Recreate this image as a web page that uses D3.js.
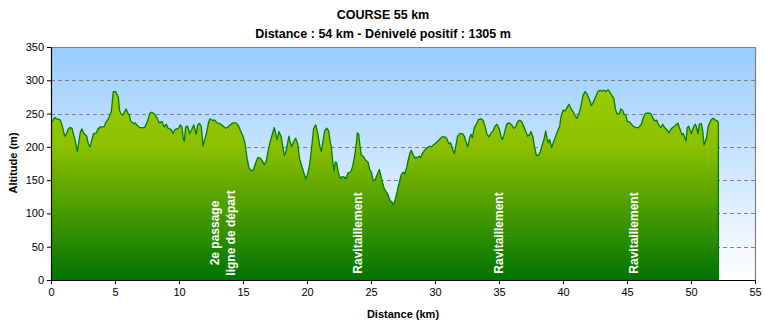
<!DOCTYPE html>
<html>
<head>
<meta charset="utf-8">
<script src="https://cdn.jsdelivr.net/npm/d3@7"></script>
<style>
  body { margin: 0; background: #fff; }
  svg { display: block; }
  text { font-family: "Liberation Sans", Arial, sans-serif; }
</style>
</head>
<body>
<svg id="chart" width="765" height="325"></svg>
<script>
// Elevation profile of the 55 km course: distance (km) and altitude (m)
const distanceKm = [
  0, 0.08, 0.29, 0.44, 0.70, 0.86, 1.07, 1.20, 1.33, 1.48,
  1.64, 1.74, 1.90, 2.06, 2.16, 2.29, 2.40, 2.58, 2.79, 2.92,
  3.05, 3.18, 3.33, 3.54, 3.67, 3.88, 4.14, 4.27, 4.53, 4.71,
  4.87, 5.05, 5.26, 5.36, 5.49, 5.63, 5.76, 5.86, 6.02, 6.12,
  6.22, 6.43, 6.59, 6.74, 6.93, 7.32, 7.53, 7.71, 7.84, 8.05,
  8.26, 8.46, 8.67, 8.85, 9.01, 9.14, 9.40, 9.53, 9.69, 9.97,
  10.10, 10.23, 10.34,
  10.42, 10.52, 10.68, 10.83, 10.99, 11.15, 11.25, 11.35, 11.46, 11.61,
  11.74, 11.88, 11.98, 12.14, 12.29, 12.40, 12.60, 12.79, 12.97, 13.18,
  13.39, 13.65, 13.83, 14.01, 14.22, 14.43, 14.64, 14.79, 15.00, 15.16,
  15.31, 15.47, 15.63, 15.78, 15.94, 16.15, 16.35, 16.51, 16.67, 16.82,
  16.98, 17.14, 17.29, 17.45, 17.55, 17.66, 17.81, 17.97, 18.07, 18.23,
  18.33, 18.49, 18.59, 18.70, 18.80, 18.96, 19.11, 19.27, 19.43, 19.58,
  19.74, 19.90, 20.05, 20.21, 20.36, 20.52, 20.68,
  20.83, 21.00, 21.12, 21.22, 21.38, 21.54, 21.69, 21.80, 21.90, 22.01,
  22.11, 22.21, 22.32, 22.42, 22.58, 22.73, 22.89, 23.05, 23.20, 23.41,
  23.57, 23.72, 23.85, 23.93, 24.04, 24.14, 24.24, 24.38, 24.51, 24.64,
  24.77, 24.90, 25.03, 25.18, 25.34, 25.49, 25.65, 25.76, 25.86, 26.02,
  26.17, 26.33, 26.48, 26.64, 26.74, 26.85, 27.01, 27.11, 27.27, 27.37,
  27.53, 27.63, 27.79, 27.89, 28.05, 28.15, 28.26, 28.41, 28.62, 28.78,
  28.88, 29.04, 29.19, 29.35, 29.56, 29.71, 29.87, 30.03, 30.18, 30.34,
  30.55, 30.76, 30.91, 31.07, 31.22,
  31.38, 31.51, 31.61, 31.77, 31.93, 32.14, 32.29, 32.40, 32.55, 32.71,
  32.81, 32.92, 33.07, 33.23, 33.39, 33.59, 33.75, 33.91, 34.06, 34.22,
  34.38, 34.53, 34.69, 34.84, 35.00, 35.16, 35.26, 35.36, 35.52, 35.63,
  35.83, 35.99, 36.15, 36.30, 36.46, 36.61, 36.77, 36.93, 37.08, 37.24,
  37.40, 37.50, 37.66, 37.76, 37.92, 38.07, 38.23, 38.39, 38.54, 38.65,
  38.75, 38.85, 38.96, 39.11, 39.27, 39.43, 39.58, 39.74, 39.84, 40.00,
  40.16, 40.31, 40.47, 40.63, 40.78, 40.94, 41.09, 41.25, 41.41, 41.56,
  41.72, 41.88,
  41.97, 42.11, 42.21, 42.37, 42.53, 42.73, 42.89, 43.05, 43.20, 43.36,
  43.52, 43.67, 43.83, 43.98, 44.09, 44.24, 44.40, 44.51, 44.66, 44.77,
  44.92, 45.03, 45.18, 45.34, 45.49, 45.70, 45.91, 46.12, 46.28, 46.43,
  46.64, 46.85, 47.01, 47.16, 47.32, 47.47, 47.63, 47.79, 47.94, 48.10,
  48.26, 48.41, 48.57, 48.72, 48.88, 48.98, 49.09, 49.19, 49.30, 49.40,
  49.51, 49.61, 49.71, 49.82, 49.92, 50.03, 50.13, 50.23, 50.34, 50.44,
  50.55, 50.65, 50.81, 50.91, 51.02, 51.12, 51.22, 51.33, 51.43, 51.59,
  51.74, 51.90, 52.06, 52.14
];

const altitudeM = [
  238, 238, 244, 242, 241, 233, 216, 219, 226, 229,
  228, 220, 209, 193, 206, 222, 227, 220, 216, 204,
  200, 210, 220, 221, 227, 230, 230, 236, 244, 253,
  283, 283, 274, 254, 249, 248, 253, 257, 250, 248,
  239, 235, 236, 232, 229, 229, 238, 250, 252, 250,
  244, 236, 238, 230, 234, 228, 226, 220, 226, 228,
  233, 230, 211,
  209, 230, 231, 220, 226, 233, 226, 219, 233, 235,
  231, 201, 209, 220, 235, 242, 240, 240, 236, 235,
  232, 228, 230, 233, 236, 236, 232, 225, 216, 205,
  184, 168, 165, 164, 173, 184, 183, 179, 173, 179,
  196, 209, 219, 229, 220, 211, 223, 216, 204, 187,
  191, 206, 216, 206, 200, 208, 213, 205, 181, 172,
  162, 152, 159, 174, 199, 228, 233,
  221, 201, 193, 205, 224, 228, 224, 209, 200, 178,
  164, 177, 176, 164, 153, 155, 155, 152, 161, 162,
  171, 186, 204, 221, 219, 201, 188, 186, 182, 179,
  177, 166, 162, 149, 151, 159, 166, 158, 149, 138,
  133, 128, 120, 117, 113, 118, 130, 139, 151, 159,
  162, 159, 169, 179, 191, 195, 189, 184, 184, 186,
  184, 191, 195, 198, 201, 200, 203, 205, 208, 211,
  215, 215, 213, 205, 206,
  196, 190, 200, 216, 220, 220, 216, 209, 200, 214,
  219, 214, 229, 234, 241, 242, 240, 231, 219, 215,
  221, 224, 231, 234, 228, 216, 211, 216, 228, 235,
  236, 233, 228, 230, 238, 240, 238, 231, 224, 216,
  219, 223, 214, 201, 187, 187, 193, 204, 213, 224,
  213, 206, 211, 199, 208, 216, 224, 231, 245, 255,
  254, 259, 264, 257, 253, 247, 243, 250, 262, 277,
  283, 279,
  275, 269, 262, 267, 274, 283, 285, 284, 285, 283,
  286, 282, 277, 272, 257, 249, 250, 257, 255, 249,
  247, 238, 238, 234, 231, 229, 229, 234, 244, 250,
  251, 250, 244, 239, 240, 233, 229, 234, 229, 226,
  221, 226, 229, 231, 234, 236, 229, 224, 218, 220,
  214, 209, 229, 231, 225, 220, 226, 231, 234, 229,
  219, 234, 235, 224, 203, 208, 214, 229, 235, 241,
  243, 240, 239, 236
];

// Axis ticks
const xTicks = [0, 5, 10, 15, 20, 25, 30, 35, 40, 45, 50, 55];
const yTicks = [0, 50, 100, 150, 200, 250, 300, 350];

// Course markers written over the profile
const markerKm = [13.43, 24.0, 35.0, 45.5];
const markerLines = [
  ["2e passage", "ligne de départ"],
  ["Ravitaillement"],
  ["Ravitaillement"],
  ["Ravitaillement"]
];

const titleText = "COURSE 55 km";
const subtitleText = "Distance : 54 km - Dénivelé positif : 1305 m";
const xTitle = "Distance (km)";
const yTitle = "Altitude (m)";

const svg = d3.select("#chart");
const plot = { left: 51, top: 47, right: 755, bottom: 280 };

const x = d3.scaleLinear().domain([0, 55]).range([plot.left, plot.right]);
const y = d3.scaleLinear().domain([0, 350]).range([plot.bottom, plot.top]);

const profile = d3.zip(distanceKm, altitudeM);

// Gradients: sky behind the plot, green fill under the profile
const defs = svg.append("defs");
const sky = defs.append("linearGradient")
  .attr("id", "sky").attr("gradientUnits", "userSpaceOnUse")
  .attr("x1", 0).attr("x2", 0).attr("y1", plot.top).attr("y2", plot.bottom);
sky.append("stop").attr("offset", 0).attr("stop-color", "#99ccff");
sky.append("stop").attr("offset", 1).attr("stop-color", "#ffffff");

const grass = defs.append("linearGradient")
  .attr("id", "grass").attr("gradientUnits", "userSpaceOnUse")
  .attr("x1", 0).attr("x2", 0)
  .attr("y1", y(d3.max(altitudeM))).attr("y2", y(0));
grass.append("stop").attr("offset", 0).attr("stop-color", "#9acc00");
grass.append("stop").attr("offset", 0.3).attr("stop-color", "#8cc000");
grass.append("stop").attr("offset", 1).attr("stop-color", "#007400");

svg.append("rect")
  .attr("x", plot.left).attr("y", plot.top)
  .attr("width", plot.right - plot.left).attr("height", plot.bottom - plot.top)
  .attr("fill", "url(#sky)");

// Dashed gridlines
svg.append("g").selectAll("line")
  .data(yTicks.filter(v => v > 0 && v < 350))
  .join("line")
  .attr("x1", plot.left).attr("x2", plot.right)
  .attr("y1", d => Math.round(y(d)) + 0.5).attr("y2", d => Math.round(y(d)) + 0.5)
  .attr("stroke", "#808080").attr("stroke-width", 1)
  .attr("stroke-dasharray", "4,3");

// Top and right frame
svg.append("path")
  .attr("d", `M${plot.left},${plot.top + 0.5}H${plot.right + 0.5}V${plot.bottom}`)
  .attr("fill", "none").attr("stroke", "#808080").attr("stroke-width", 1.2);

// Profile area and outline
svg.append("path")
  .datum(profile)
  .attr("d", d3.area().x(d => x(d[0])).y0(y(0)).y1(d => y(d[1])))
  .attr("fill", "url(#grass)");

const last = profile[profile.length - 1];
svg.append("path")
  .datum(profile.concat([[last[0], 0]]))
  .attr("d", d3.line().x(d => x(d[0])).y(d => y(d[1])))
  .attr("fill", "none").attr("stroke", "#008000").attr("stroke-width", 1.3)
  .attr("stroke-linejoin", "round");

// Marker labels
const mk = svg.append("g");
markerKm.forEach((km, i) => {
  const lines = markerLines[i];
  const t = mk.append("text")
    .attr("transform", `translate(${x(km)},${233}) rotate(-90)`)
    .attr("text-anchor", "middle")
    .attr("fill", "#ffffff").attr("font-weight", "bold").attr("font-size", 12);
  lines.forEach((s, j) => {
    t.append("tspan").attr("x", 0)
      .attr("dy", j === 0 ? `${0.35 - (lines.length - 1) * 0.65}em` : "1.3em")
      .text(s);
  });
});

// Axes
const yAxis = svg.append("g")
  .attr("transform", `translate(${plot.left},0)`)
  .call(d3.axisLeft(y).tickValues(yTicks).tickSize(4).tickPadding(3).tickSizeOuter(0));
const xAxis = svg.append("g")
  .attr("transform", `translate(0,${plot.bottom})`)
  .call(d3.axisBottom(x).tickValues(xTicks).tickSize(4).tickPadding(4).tickSizeOuter(0));
[xAxis, yAxis].forEach(g => {
  g.select(".domain").attr("stroke", "#000").attr("stroke-width", 1.2);
  g.selectAll(".tick line").attr("stroke", "#000");
  g.selectAll(".tick text").attr("font-size", 11).attr("font-family", "Liberation Sans, Arial, sans-serif").attr("fill", "#000");
});

// Titles
svg.append("text").attr("x", 383).attr("y", 19)
  .attr("text-anchor", "middle").attr("font-weight", "bold").attr("font-size", 12.5)
  .text(titleText);
svg.append("text").attr("x", 383).attr("y", 38)
  .attr("text-anchor", "middle").attr("font-weight", "bold").attr("font-size", 12.5)
  .text(subtitleText);
svg.append("text").attr("x", 403).attr("y", 318)
  .attr("text-anchor", "middle").attr("font-weight", "bold").attr("font-size", 11)
  .text(xTitle);
svg.append("text")
  .attr("transform", `translate(17,163) rotate(-90)`)
  .attr("text-anchor", "middle").attr("font-weight", "bold").attr("font-size", 11)
  .text(yTitle);
</script>
</body>
</html>
